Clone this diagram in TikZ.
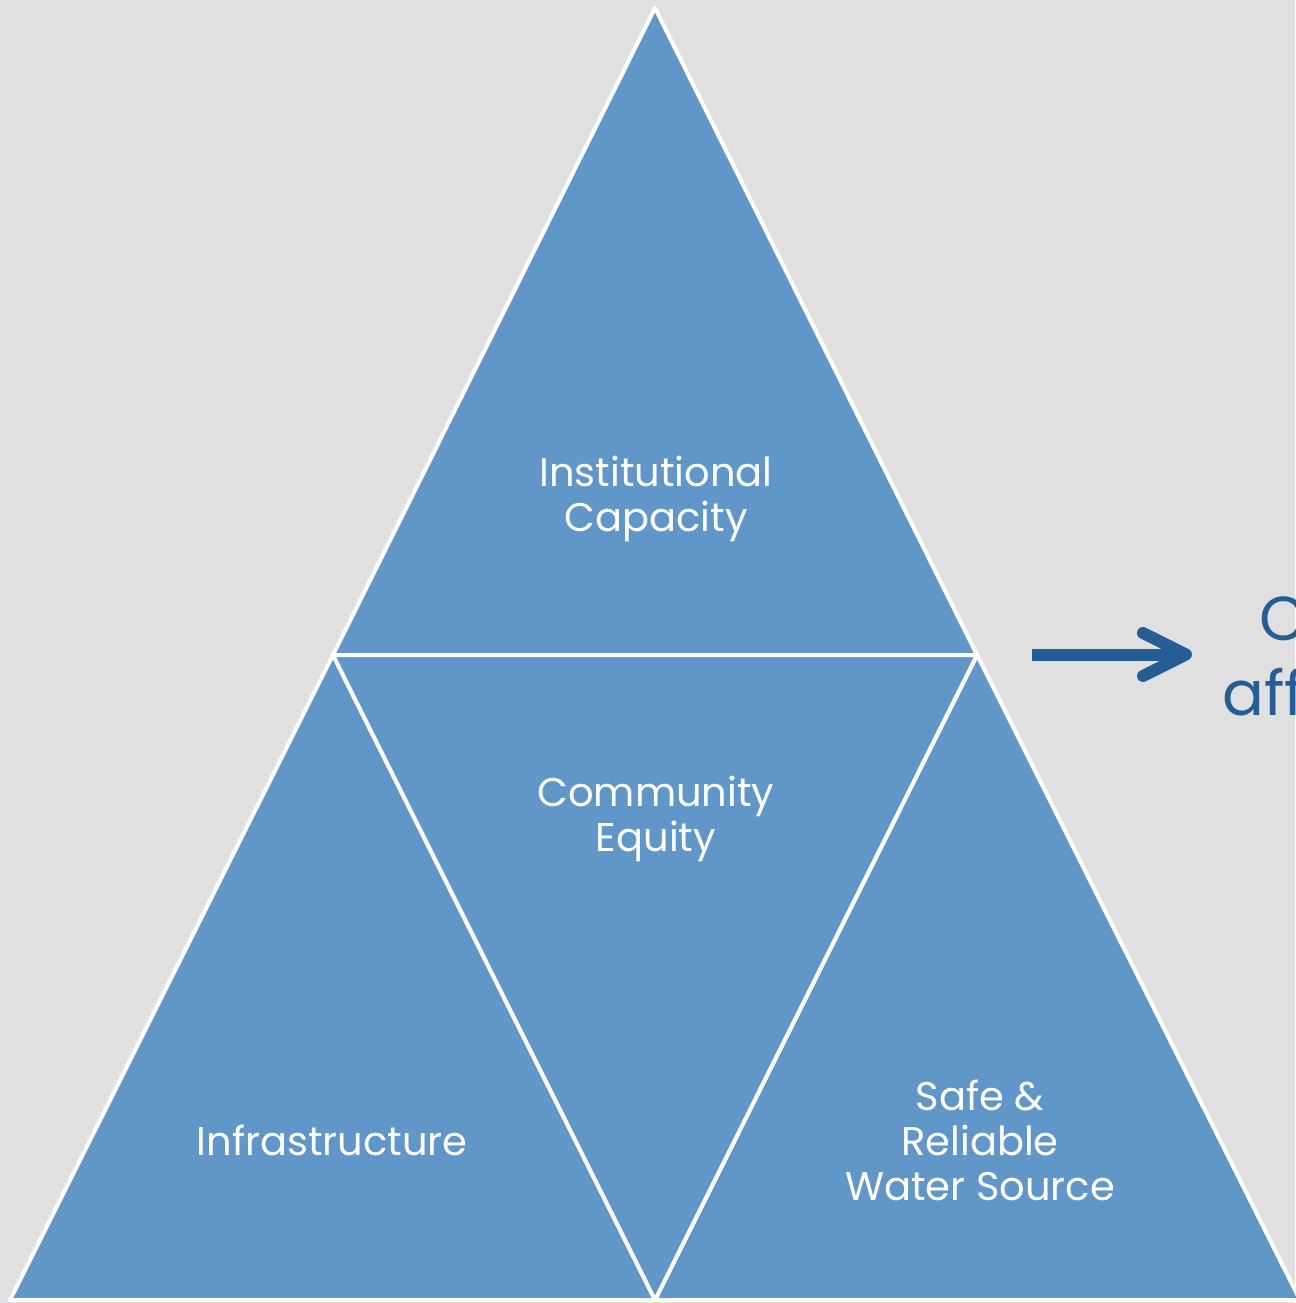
\documentclass[tikz,border=0pt]{standalone}
\usepackage{fontspec}
\setmainfont{Poppins}
\definecolor{bg}{HTML}{E0E0E0}
\definecolor{tri}{HTML}{6196C8}
\definecolor{dark}{HTML}{265D94}
\begin{document}
\begin{tikzpicture}[x=1pt,y=-1pt,
  piece/.style={fill=tri,draw=white,line width=4pt,line join=round},
  label/.style={text=white,font=\fontsize{40}{45}\selectfont,align=center,inner sep=0pt,anchor=base},
  side/.style={text=dark,font=\fontsize{62}{73}\selectfont,inner sep=0pt,anchor=base west}]
\useasboundingbox (0,0) rectangle (1295,1303);
\fill[bg] (0,0) rectangle (1295,1303);
\coordinate (A) at (655,8);
\coordinate (L) at (10,1300);
\coordinate (R) at (1300,1300);
\coordinate (ML) at (333,655);
\coordinate (MR) at (977,655);
\coordinate (MB) at (655,1300);
\draw[piece] (A) -- (ML) -- (MR) -- cycle;
\draw[piece] (ML) -- (L) -- (MB) -- cycle;
\draw[piece] (MR) -- (MB) -- (R) -- cycle;
\draw[piece] (ML) -- (MR) -- (MB) -- cycle;
\node[label] (inst) at (656,531) {Institutional\\Capacity};
\node[label] (comm) at (656,851) {Community\\Equity};
\node[label] (infra) at (332,1155) {Infrastructure};
\node[label] (safe) at (980,1200) {Safe \&\\Reliable\\Water Source};
\coordinate (a0) at (1032,654.5);
\coordinate (a1) at (1180,654.5);
\coordinate (t) at (1186,654.5);
\coordinate (u) at (1143,633);
\coordinate (d) at (1143,676);
\draw[dark,line width=12pt] (a0) -- (a1);
\draw[dark,line width=12pt,line cap=round,line join=round] (u) -- (t) -- (d);
\node[side] (c1) at (1259,640) {C};
\node[side] (c2) at (1222,715) {aff};
\end{tikzpicture}
\end{document}
